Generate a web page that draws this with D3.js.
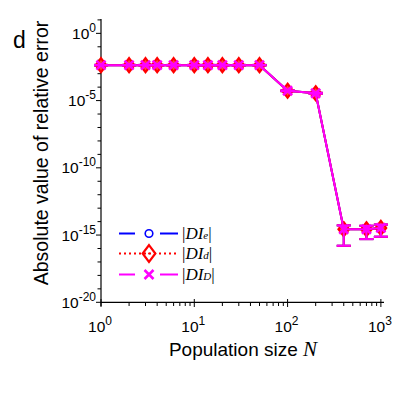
<!DOCTYPE html>
<html>
<head>
<meta charset="utf-8">
<script src="https://cdn.jsdelivr.net/npm/d3@7"></script>
<style>
  body { margin: 0; background: #fff; }
  svg { display: block; }
  text { font-family: "Liberation Sans", Arial, sans-serif; }
</style>
</head>
<body>
<svg id="chart" width="405" height="405"></svg>
<script>
// population sizes
var popSize = [1, 2, 3, 4, 6, 10, 14, 20, 30, 50, 100, 200, 400, 700, 1000];

// |DI_e|, |DI_d|, |DI_D| (mean absolute relative error)
var diE = [4.3e-3, 4.3e-3, 4.3e-3, 4.3e-3, 4.3e-3, 4.3e-3, 4.3e-3, 4.3e-3, 4.3e-3, 4.3e-3, 5.4e-5, 3.5e-5, 2.7e-15, 2.7e-15, 3.4e-15];
var diD1 = [4.3e-3, 4.3e-3, 4.3e-3, 4.3e-3, 4.3e-3, 4.3e-3, 4.3e-3, 4.3e-3, 4.3e-3, 4.3e-3, 5.4e-5, 3.5e-5, 2.7e-15, 2.7e-15, 3.4e-15];
var diD2 = [4.3e-3, 4.3e-3, 4.3e-3, 4.3e-3, 4.3e-3, 4.3e-3, 4.3e-3, 4.3e-3, 4.3e-3, 4.3e-3, 5.4e-5, 3.5e-5, 2.7e-15, 2.7e-15, 3.4e-15];

// standard deviations (error bars)
var stdE = [2e-4, 2e-4, 2e-4, 2e-4, 2e-4, 2e-4, 2e-4, 2e-4, 2e-4, 2e-4, 4e-6, 3e-6, 2.54e-15, 2.2e-15, 2.65e-15];

var xTicks = [1, 10, 100, 1000];
var yTicks = [1e0, 1e-5, 1e-10, 1e-15, 1e-20];

var series = [
  {name: "e", vals: diE, color: "#0000ff", dash: "16,25,18", marker: "circle"},
  {name: "d", vals: diD1, color: "#ff0000", dash: "2,3", marker: "diamond"},
  {name: "D", vals: diD2, color: "#ff00ff", dash: "16,25,18", marker: "x"}
];

var svg = d3.select("#chart");

var x = d3.scaleLog().domain([1, 1080]).range([101, 384]);
var y = d3.scaleLog().domain([1e-20, 1e1]).range([302.3, 19.9]);

// minor ticks
var xMinor = [];
for (var d = 0; d < 3; d++) {
  for (var k = 2; k <= 9; k++) xMinor.push(k * Math.pow(10, d));
}
var yMinor = [];
for (var e = -20; e <= 1; e++) {
  if (e % 5 != 0) yMinor.push(Math.pow(10, e));
}

var ax = svg.append("g");

// axis lines
ax.append("line").attr("x1", 101).attr("x2", 384).attr("y1", 302.3).attr("y2", 302.3)
  .attr("stroke", "#000").attr("stroke-width", 1.2);
ax.append("line").attr("x1", 101).attr("x2", 101).attr("y1", 19).attr("y2", 306)
  .attr("stroke", "#000").attr("stroke-width", 1.2);

ax.selectAll(".xminor").data(xMinor).enter().append("line")
  .attr("x1", function(d) { return x(d); }).attr("x2", function(d) { return x(d); })
  .attr("y1", 302.3).attr("y2", 306).attr("stroke", "#000");
ax.selectAll(".xmajor").data(xTicks).enter().append("line")
  .attr("x1", function(d) { return x(d); }).attr("x2", function(d) { return x(d); })
  .attr("y1", 299).attr("y2", 307).attr("stroke", "#000");

ax.selectAll(".yminor").data(yMinor).enter().append("line")
  .attr("y1", function(d) { return y(d); }).attr("y2", function(d) { return y(d); })
  .attr("x1", 97.5).attr("x2", 101).attr("stroke", "#000");
ax.selectAll(".ymajor").data(yTicks).enter().append("line")
  .attr("y1", function(d) { return y(d); }).attr("y2", function(d) { return y(d); })
  .attr("x1", 96).attr("x2", 101).attr("stroke", "#000");

// tick labels
ax.selectAll(".xlab").data(xTicks).enter().append("text")
  .attr("x", function(d) { return x(d) - 1; })
  .attr("y", 332)
  .attr("text-anchor", "middle")
  .style("font-size", "15.5px")
  .each(function(d) {
    var t = d3.select(this);
    t.append("tspan").text("10");
    t.append("tspan").attr("dy", -7).style("font-size", "12px").text(Math.round(Math.log10(d)));
  });

ax.selectAll(".ylab").data(yTicks).enter().append("text")
  .attr("x", 96)
  .attr("y", function(d) { return y(d) + 5.5; })
  .attr("text-anchor", "end")
  .style("font-size", "15.5px")
  .each(function(d) {
    var t = d3.select(this);
    t.append("tspan").text("10");
    t.append("tspan").attr("dy", -7).style("font-size", "12px").text(Math.round(Math.log10(d)));
  });

// axis titles
svg.append("text").attr("x", 13).attr("y", 48).style("font-size", "23px").text("d");

svg.append("text")
  .attr("transform", "translate(48,153) rotate(-90)")
  .attr("text-anchor", "middle")
  .style("font-size", "19.5px")
  .text("Absolute value of relative error");

var xt = svg.append("text").attr("x", 243).attr("y", 356)
  .attr("text-anchor", "middle").style("font-size", "19px");
xt.append("tspan").text("Population size ");
xt.append("tspan").style("font-family", "'Liberation Serif', serif").style("font-style", "italic")
  .style("font-size", "21px").text("N");

// lines
var line = d3.line()
  .x(function(d, i) { return x(popSize[i]); })
  .y(function(d) { return y(d); });

function drawMarker(g, type, color, cx, cy, big) {
  var s = big ? 1.2 : 1;
  if (type == "circle") {
    g.append("circle").attr("cx", cx).attr("cy", cy).attr("r", 3.8 * s)
      .attr("fill", "none").attr("stroke", color).attr("stroke-width", 1.6);
  } else if (type == "diamond") {
    var w = 5.3 * s, h = 7 * s;
    g.append("path")
      .attr("d", "M" + cx + "," + (cy - h) + "L" + (cx + w) + "," + cy + "L" + cx + "," + (cy + h) + "L" + (cx - w) + "," + cy + "Z")
      .attr("fill", big ? "none" : "#ff4040").attr("stroke", color).attr("stroke-width", 2.2);
  } else {
    var r = 4.5 * s;
    g.append("path")
      .attr("d", "M" + (cx - r) + "," + (cy - r) + "L" + (cx + r) + "," + (cy + r) +
        "M" + (cx - r) + "," + (cy + r) + "L" + (cx + r) + "," + (cy - r))
      .attr("stroke", color).attr("stroke-width", 2.6);
  }
}

var plot = svg.append("g");
series.forEach(function(s) {
  var g = plot.append("g");
  // error bars
  s.vals.forEach(function(v, i) {
    var lo = Math.max(v - stdE[i], 1e-20), hi = v + stdE[i];
    var cx = x(popSize[i]);
    g.append("line").attr("x1", cx).attr("x2", cx).attr("y1", y(lo)).attr("y2", y(hi))
      .attr("stroke", s.color).attr("stroke-width", 2);
    [lo, hi].forEach(function(b) {
      g.append("line").attr("x1", cx - 7).attr("x2", cx + 7).attr("y1", y(b)).attr("y2", y(b))
        .attr("stroke", s.color).attr("stroke-width", 2);
    });
  });
  // the three curves lie on top of each other, so they read as one solid line
  g.append("path").datum(s.vals).attr("d", line)
    .attr("fill", "none").attr("stroke", s.color).attr("stroke-width", 2);
  s.vals.forEach(function(v, i) {
    drawMarker(g, s.marker, s.color, x(popSize[i]), y(v), false);
  });
});

// legend
var leg = svg.append("g");
var legY = [233.5, 253.5, 274.5];
series.forEach(function(s, i) {
  leg.append("line").attr("x1", 119).attr("x2", 178).attr("y1", legY[i]).attr("y2", legY[i])
    .attr("stroke", s.color).attr("stroke-width", 2)
    .attr("stroke-dasharray", s.dash);
  drawMarker(leg, s.marker, s.color, 149, legY[i], s.marker == "diamond");
  if (s.marker == "diamond") {
    leg.append("circle").attr("cx", 149).attr("cy", legY[i]).attr("r", 1).attr("fill", s.color);
  }
  var t = leg.append("text").attr("x", 182).attr("y", legY[i] + 5.5)
    .style("font-family", "'Liberation Serif', serif").style("font-size", "17px");
  t.append("tspan").text("|");
  t.append("tspan").style("font-style", "italic").text("DI");
  t.append("tspan").style("font-style", "italic").style("font-size", "11px").text(s.name);
  t.append("tspan").text("|");
});
</script>
</body>
</html>
